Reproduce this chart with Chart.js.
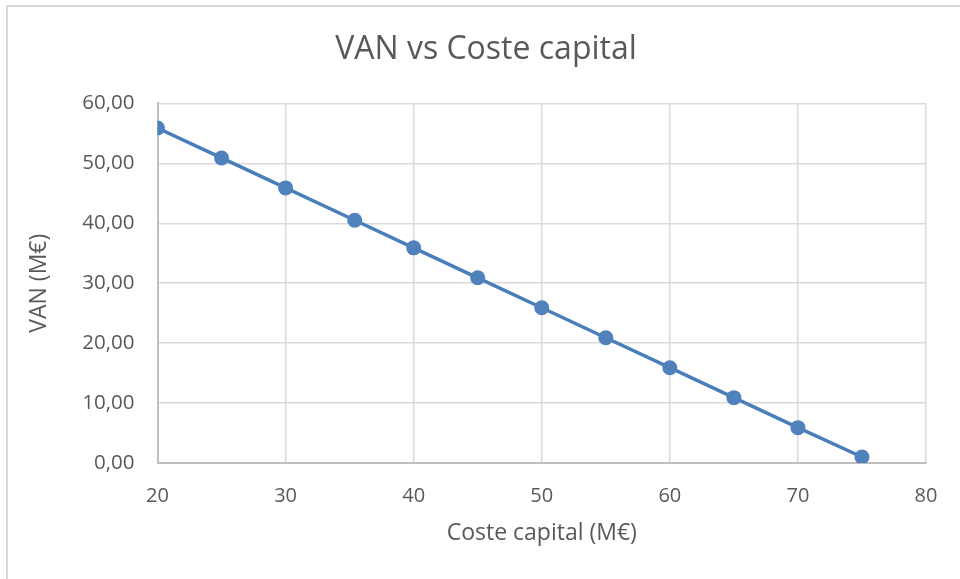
<!DOCTYPE html>
<html lang="es">
<head>
<meta charset="utf-8">
<title>VAN vs Coste capital</title>
<script src="https://cdn.jsdelivr.net/npm/chart.js@4.4.1/dist/chart.umd.min.js"></script>
<style>
  html, body { margin: 0; padding: 0; background: #ffffff; }
  #wrap { width: 960px; height: 579px; }
</style>
</head>
<body>
<div id="wrap"><canvas id="chart" width="960" height="579"></canvas></div>
<script>
// Coste capital (M€) y VAN (M€) de cada escenario
const costeCapital = [20, 25, 30, 35.4, 40, 45, 50, 55, 60, 65, 70, 75];
const van = [55.9, 50.9, 45.9, 40.5, 35.9, 30.9, 25.9, 20.9, 15.9, 10.9, 5.9, 1.0];

const titulo = 'VAN vs Coste capital';
const tituloX = 'Coste capital (M€)';
const tituloY = 'VAN (M€)';

const puntos = costeCapital.map((x, i) => ({ x: x, y: van[i] }));

const gris = '#595959';
const font = 'Open Sans';

// Marco claro alrededor del gráfico
const marco = {
  id: 'marco',
  beforeDraw(chart) {
    const ctx = chart.ctx;
    ctx.save();
    ctx.strokeStyle = '#d9d9d9';
    ctx.lineWidth = 2;
    ctx.beginPath();
    ctx.moveTo(7, 579);
    ctx.lineTo(7, 6);
    ctx.lineTo(960, 6);
    ctx.stroke();
    ctx.restore();
  }
};

new Chart(document.getElementById('chart'), {
  type: 'scatter',
  data: {
    datasets: [{
      label: 'VAN',
      data: puntos,
      showLine: true,
      borderColor: '#4a7ebb',
      backgroundColor: '#4f81bd',
      borderWidth: 3.5,
      pointRadius: 7.5,
      pointHoverRadius: 7.5,
      pointBorderWidth: 0,
      tension: 0
    }]
  },
  options: {
    responsive: false,
    animation: false,
    layout: { padding: { left: 12, right: 0, top: 0, bottom: 0 } },
    plugins: {
      legend: { display: false },
      tooltip: { enabled: false },
      title: {
        display: true,
        text: titulo,
        color: gris,
        font: { family: font, size: 32, weight: '400', lineHeight: 1.2 },
        padding: { top: 31, bottom: 34 }
      }
    },
    scales: {
      x: {
        type: 'linear',
        min: 20,
        max: 80,
        afterFit(scale) { scale.height = 116; },
        ticks: {
          stepSize: 10,
          color: gris,
          padding: 21,
          font: { family: font, size: 20 }
        },
        grid: { color: '#d9d9d9', lineWidth: 1.5, drawTicks: false },
        border: { color: '#bfbfbf', width: 2 },
        title: {
          display: true,
          text: tituloX,
          color: gris,
          font: { family: font, size: 23 },
          padding: { top: 0, bottom: 32 }
        }
      },
      y: {
        type: 'linear',
        min: 0,
        max: 60,
        afterFit(scale) { scale.width = 145.5; },
        ticks: {
          stepSize: 10,
          color: gris,
          padding: 23,
          font: { family: font, size: 20.5 },
          callback: (v) => v.toFixed(2).replace('.', ',')
        },
        grid: { color: '#d9d9d9', lineWidth: 1.5, drawTicks: false },
        border: { color: '#bfbfbf', width: 2 },
        title: {
          display: true,
          text: tituloY,
          color: gris,
          font: { family: font, size: 23 },
          padding: { top: 14, bottom: 0 }
        }
      },
      // margen derecho del área de trazado
      margen: {
        type: 'linear',
        position: 'right',
        display: true,
        afterFit(scale) { scale.width = 34; },
        ticks: { display: false },
        grid: { display: false },
        border: { display: false }
      }
    }
  },
  plugins: [marco]
});
</script>
</body>
</html>
